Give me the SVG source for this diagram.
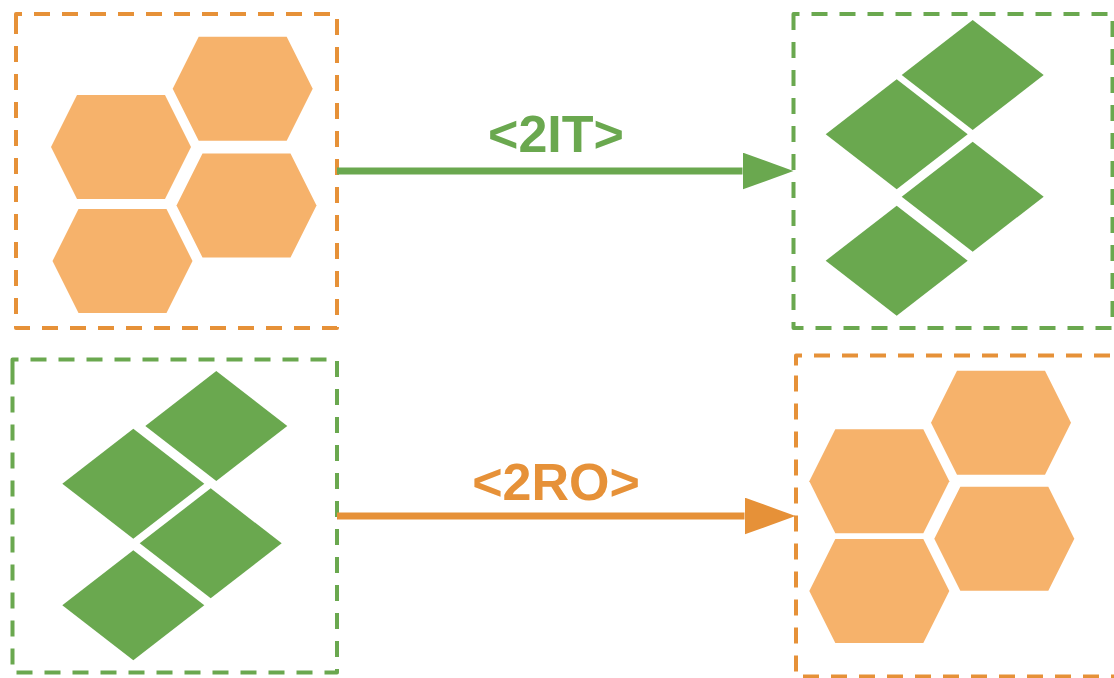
<svg xmlns="http://www.w3.org/2000/svg" width="1114" height="678" viewBox="0 0 1114 678">
  <style>
    .box { fill: none; stroke-width: 4; stroke-dasharray: 16 12; stroke-linejoin: round; }
    .box-orange { stroke: #E69138; }
    .box-green { stroke: #6AA84F; }
    .hex { fill: #F6B26B; }
    .dia { fill: #6AA84F; }
    .label { font-family: "Liberation Sans", Arial, sans-serif; font-weight: bold; font-size: 52px; text-anchor: middle; }
  </style>
  <defs>
    <!-- flat-topped hexagon, 140 x 104 -->
    <polygon id="hexShape" points="-44,-52 44,-52 70,0 44,52 -44,52 -70,0"/>
    <!-- diamond, 142 x 110 -->
    <polygon id="diaShape" points="0,-55 71,0 0,55 -71,0"/>
    <marker id="headGreen" markerUnits="userSpaceOnUse" markerWidth="52" markerHeight="38" refX="0" refY="18.5" orient="auto">
      <path d="M0,0 L51,18.5 L0,37 z" fill="#6AA84F"/>
    </marker>
    <marker id="headOrange" markerUnits="userSpaceOnUse" markerWidth="52" markerHeight="38" refX="0" refY="18.5" orient="auto">
      <path d="M0,0 L51,18.5 L0,37 z" fill="#E69138"/>
    </marker>
  </defs>

  <!-- source: hexagon cluster -->
  <g id="hex-source">
    <path class="box box-orange" d="M16,24 V14 H337 V328 H16 Z"/>
    <use href="#hexShape" class="hex" x="242.7" y="88.7"/>
    <use href="#hexShape" class="hex" x="121" y="147"/>
    <use href="#hexShape" class="hex" x="246.5" y="205.5"/>
    <use href="#hexShape" class="hex" x="122.5" y="261"/>
  </g>

  <!-- target: diamond cluster -->
  <g id="dia-target">
    <path class="box box-green" d="M793.5,24 V14 H1112.5 V328 H793.5 Z"/>
    <use href="#diaShape" class="dia" x="972.7" y="75"/>
    <use href="#diaShape" class="dia" x="896.7" y="134.3"/>
    <use href="#diaShape" class="dia" x="972.7" y="196.7"/>
    <use href="#diaShape" class="dia" x="896.7" y="260.7"/>
  </g>

  <!-- source: diamond cluster -->
  <g id="dia-source">
    <path class="box box-green" d="M12.5,369.5 V359.5 H337 V672.5 H12.5 Z"/>
    <use href="#diaShape" class="dia" x="216.3" y="426"/>
    <use href="#diaShape" class="dia" x="133.3" y="483.7"/>
    <use href="#diaShape" class="dia" x="210.7" y="543.3"/>
    <use href="#diaShape" class="dia" x="133.3" y="605.3"/>
  </g>

  <!-- target: hexagon cluster -->
  <g id="hex-target">
    <path class="box box-orange" d="M796,365.5 V355.5 H1118 V676.5 H796 Z"/>
    <use href="#hexShape" class="hex" x="1001" y="422.7"/>
    <use href="#hexShape" class="hex" x="879.3" y="481.3"/>
    <use href="#hexShape" class="hex" x="1004.3" y="538.7"/>
    <use href="#hexShape" class="hex" x="879.3" y="591"/>
  </g>

  <!-- transforms -->
  <g id="connectors">
    <line x1="337" y1="171" x2="742.5" y2="171" stroke="#6AA84F" stroke-width="7" marker-end="url(#headGreen)"/>
    <text class="label" x="556" y="152" fill="#6AA84F">&lt;2IT&gt;</text>
    <line x1="337" y1="516" x2="744.5" y2="516" stroke="#E69138" stroke-width="7" marker-end="url(#headOrange)"/>
    <text class="label" x="556" y="500" fill="#E69138">&lt;2RO&gt;</text>
  </g>
</svg>
